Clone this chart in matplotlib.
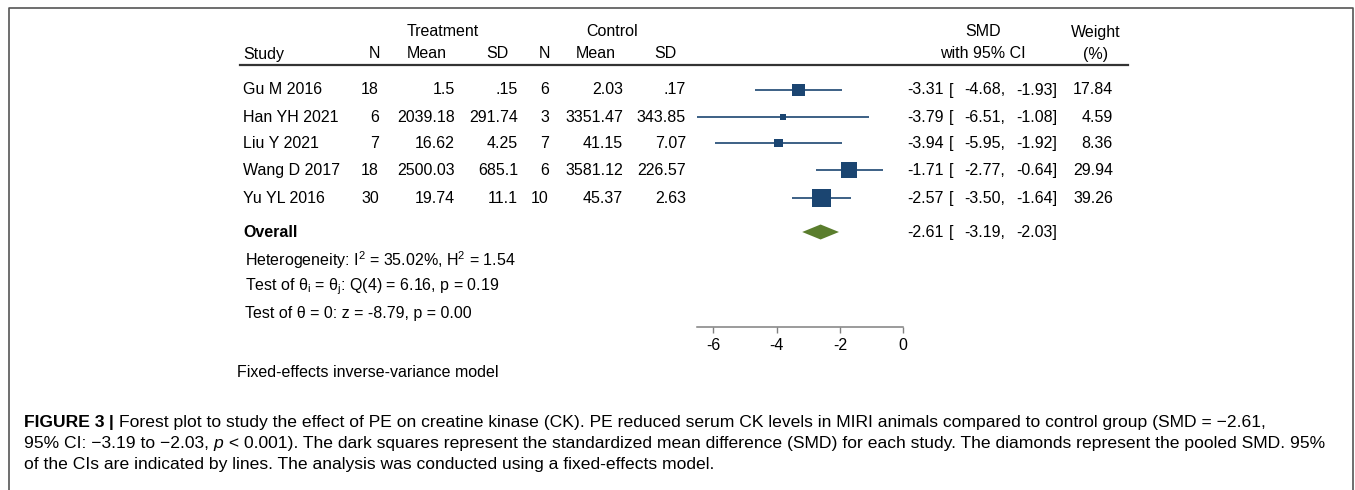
import matplotlib
matplotlib.use("Agg")
import matplotlib.pyplot as plt
import numpy as np

plt.rcParams['font.family'] = ['Liberation Sans', 'DejaVu Sans']
plt.rcParams['mathtext.fontset'] = 'custom'
plt.rcParams['mathtext.rm'] = 'Liberation Sans'
plt.rcParams['mathtext.it'] = 'Liberation Sans:italic'
plt.rcParams['axes.unicode_minus'] = False

# data
studies = ["Gu M 2016", "Han YH 2021", "Liu Y 2021", "Wang D 2017", "Yu YL 2016"]
n_trt = [18, 6, 7, 18, 30]
mean_trt = [1.5, 2039.18, 16.62, 2500.03, 19.74]
sd_trt = [0.15, 291.74, 4.25, 685.1, 11.1]
n_ctl = [6, 3, 7, 6, 10]
mean_ctl = [2.03, 3351.47, 41.15, 3581.12, 45.37]
sd_ctl = [0.17, 343.85, 7.07, 226.57, 2.63]
smd = [-3.31, -3.79, -3.94, -1.71, -2.57]
ci_lo = [-4.68, -6.51, -5.95, -2.77, -3.50]
ci_hi = [-1.93, -1.08, -1.92, -0.64, -1.64]
weight = [17.84, 4.59, 8.36, 29.94, 39.26]
overall = [-2.61, -3.19, -2.03]
xticks = [-6, -4, -2, 0]

W, H = 1355, 490
navy = '#1b4571'
green = '#5a7d2d'
fs = 11.5


def stata(v):
    s = f"{v:g}"
    if s.startswith("0."):
        s = s[1:]
    return s


fig = plt.figure(figsize=(W / 100, H / 100), dpi=100)
bg = fig.add_axes([0, 0, 1, 1])
bg.set_xlim(0, W)
bg.set_ylim(H, 0)
bg.axis('off')

# outer frame
bg.plot([9, 9, 1353, 1353], [H + 5, 8, 8, H + 5], color='#555555', lw=1.2, clip_on=False)

row_y = [90, 117, 143, 170, 198]
over_y = 232

# headers
bg.text(443, 32, "Treatment", ha='center', va='center', fontsize=fs)
bg.text(612, 32, "Control", ha='center', va='center', fontsize=fs)
bg.text(983, 32, "SMD", ha='center', va='center', fontsize=fs)
bg.text(1096, 32, "Weight", ha='center', va='center', fontsize=fs)
bg.text(243, 54, "Study", ha='left', va='center', fontsize=fs)
for x, lab in zip([374, 427, 497, 544, 596, 665, 983, 1096],
                  ["N", "Mean", "SD", "N", "Mean", "SD", "with 95% CI", "(%)"]):
    bg.text(x, 54, lab, ha='center', va='center', fontsize=fs)
bg.plot([240, 1128], [65.5, 65.5], color='#333333', lw=1.6)

# table rows
cols = [(379, n_trt), (455, mean_trt), (518, sd_trt), (549, n_ctl), (623, mean_ctl), (686, sd_ctl)]
for i, y in enumerate(row_y):
    bg.text(243, y, studies[i], ha='left', va='center', fontsize=fs)
    for x, arr in cols:
        bg.text(x, y, stata(arr[i]), ha='right', va='center', fontsize=fs)
    bg.text(944, y, f"{smd[i]:.2f}", ha='right', va='center', fontsize=fs)
    bg.text(949, y, "[", ha='left', va='center', fontsize=fs)
    bg.text(1005, y, f"{ci_lo[i]:.2f},", ha='right', va='center', fontsize=fs)
    bg.text(1057, y, f"{ci_hi[i]:.2f}]", ha='right', va='center', fontsize=fs)
    bg.text(1113, y, f"{weight[i]:.2f}", ha='right', va='center', fontsize=fs)

bg.text(243, over_y, "Overall", ha='left', va='center', fontsize=fs, weight='bold')
bg.text(944, over_y, f"{overall[0]:.2f}", ha='right', va='center', fontsize=fs)
bg.text(949, over_y, "[", ha='left', va='center', fontsize=fs)
bg.text(1005, over_y, f"{overall[1]:.2f},", ha='right', va='center', fontsize=fs)
bg.text(1057, over_y, f"{overall[2]:.2f}]", ha='right', va='center', fontsize=fs)

bg.text(245, 260, r"Heterogeneity: I$^2$ = 35.02%, H$^2$ = 1.54", ha='left', va='center', fontsize=fs)
bg.text(245, 287, r"Test of $\mathrm{\theta_i}$ = $\mathrm{\theta_j}$: Q(4) = 6.16, p = 0.19",
        ha='left', va='center', fontsize=fs)
bg.text(245, 313, "Test of \u03b8 = 0: z = -8.79, p = 0.00", ha='left', va='center', fontsize=fs)
bg.text(237, 372, "Fixed-effects inverse-variance model", ha='left', va='center', fontsize=fs)

# forest plot
x0, x1, y_top, y_ax = 697.3, 903.3, 66, 327
fp = fig.add_axes([x0 / W, 1 - y_ax / H, (x1 - x0) / W, (y_ax - y_top) / H])
fp.set_xlim(-6.5, 0)
fp.set_ylim(y_ax, y_top)
fp.patch.set_alpha(0)
for s in ['top', 'left', 'right']:
    fp.spines[s].set_visible(False)
fp.spines['bottom'].set_color('#808080')
fp.spines['bottom'].set_linewidth(1.1)
fp.set_yticks([])
fp.set_xticks(xticks)
fp.set_xticklabels([str(t) for t in xticks])
fp.tick_params(axis='x', direction='out', length=4, width=1.0, color='#808080',
               labelsize=fs, pad=4)

fp.hlines(row_y, ci_lo, ci_hi, color=navy, lw=1.2, clip_on=False)
sizes = [(3.0 * np.sqrt(w) * 0.72) ** 2 for w in weight]
fp.scatter(smd, row_y, s=sizes, marker='s', color=navy, linewidths=0, zorder=3, clip_on=False)
fp.fill([overall[1], overall[0], overall[2], overall[0]],
        [over_y, over_y - 7.5, over_y, over_y + 7.5], color=green, lw=0, clip_on=False)

# caption
cfs = 12.6


def chain(prev, s, **kw):
    return bg.annotate(s, xy=(1, 0), xycoords=prev, va='bottom', ha='left', fontsize=cfs, **kw)


t = bg.text(24, 427, "FIGURE 3", va='baseline', ha='left', fontsize=cfs, weight='bold')
t = chain(t, " | ", weight='bold')
chain(t, "Forest plot to study the effect of PE on creatine kinase (CK). PE reduced serum CK levels "
         "in MIRI animals compared to control group (SMD = \u22122.61,")
t = bg.text(24, 448, "95% CI: \u22123.19 to \u22122.03, ", va='baseline', ha='left', fontsize=cfs)
t = chain(t, "p", style='italic')
chain(t, " < 0.001). The dark squares represent the standardized mean difference (SMD) for each study. "
         "The diamonds represent the pooled SMD. 95%")
bg.text(24, 469, "of the CIs are indicated by lines. The analysis was conducted using a fixed-effects model.",
        va='baseline', ha='left', fontsize=cfs)

fig.savefig("out.png", dpi=100)
